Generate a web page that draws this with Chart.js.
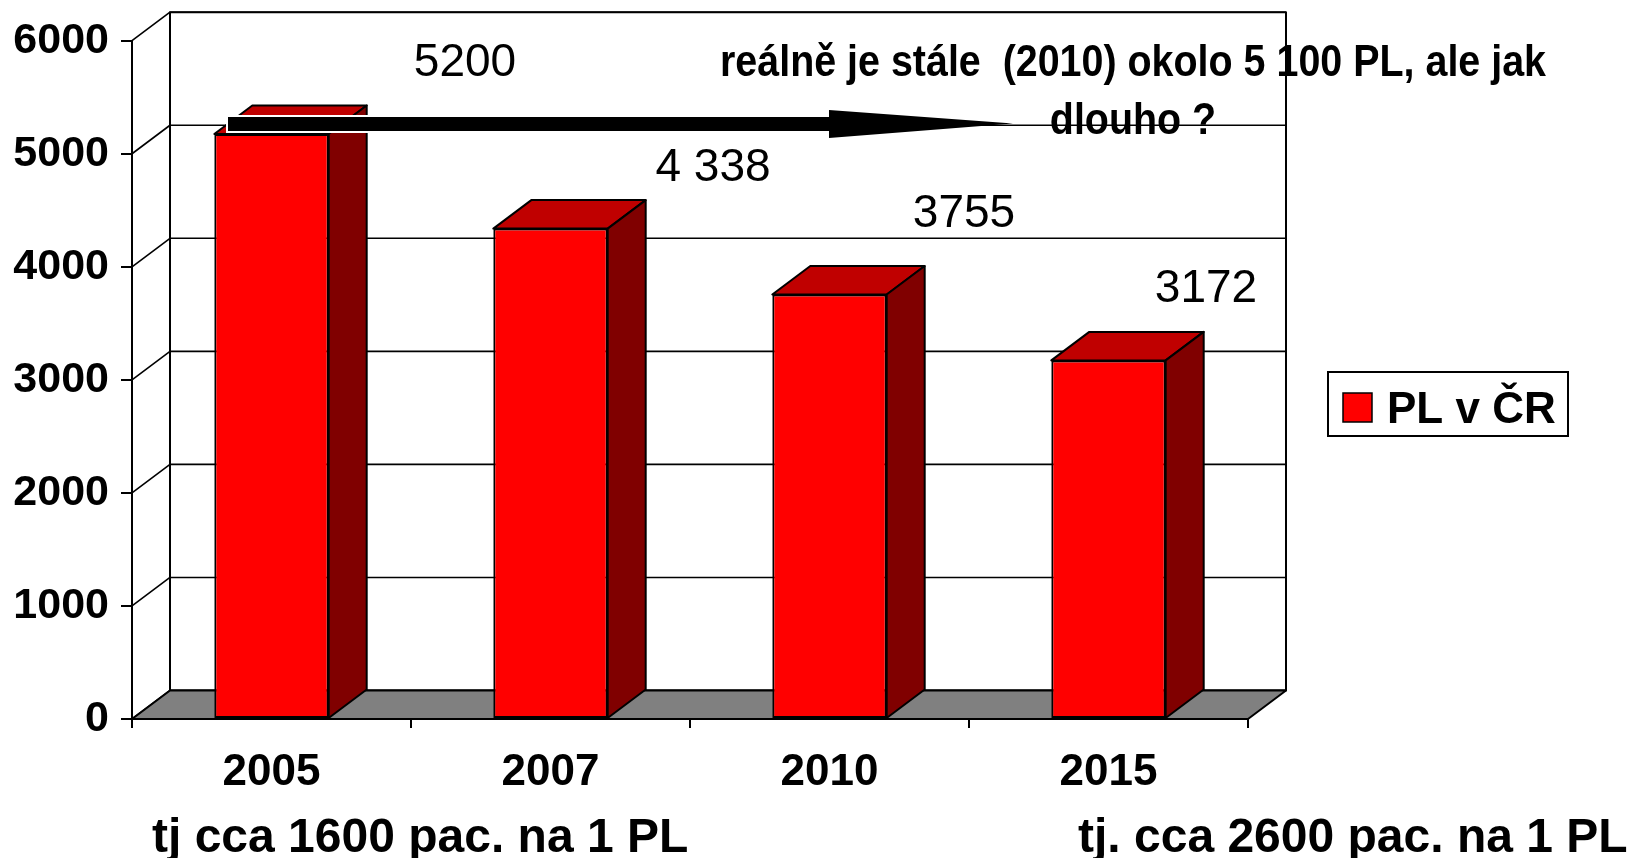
<!DOCTYPE html>
<html>
<head>
<meta charset="utf-8">
<title>PL v ČR</title>
<script src="https://cdn.jsdelivr.net/npm/chart.js@4.4.0/dist/chart.umd.min.js"></script>
<style>
  html, body { margin: 0; padding: 0; background: #fff; }
  #wrap { width: 1631px; height: 858px; }
</style>
</head>
<body>
<div id="wrap"><canvas id="myChart" width="1631" height="858"></canvas></div>
<script>
const years = ['2005', '2007', '2010', '2015']
const doctors = [5175, 4338, 3755, 3172]
const valueLabels = ['5200', '4 338', '3755', '3172']
const yTicks = [0, 1000, 2000, 3000, 4000, 5000, 6000]
const seriesName = 'PL v ČR'
const noteLines = ['reálně je stále  (2010) okolo 5 100 PL, ale jak', 'dlouho ?']
const footLeft = 'tj cca 1600 pac. na 1 PL'
const footRight = 'tj. cca 2600 pac. na 1 PL'

const FONT = "'Liberation Sans', Arial, sans-serif"
const DX = 38, DY = -28.5   // depth of the fake 3d box

function poly(ctx, pts, fill) {
    ctx.beginPath()
    ctx.moveTo(pts[0][0], pts[0][1])
    for (let i = 1; i < pts.length; i++) ctx.lineTo(pts[i][0], pts[i][1])
    ctx.closePath()
    if (fill) { ctx.fillStyle = fill; ctx.fill() }
    ctx.stroke()
}

const threeD = {
    id: 'threeD',
    beforeDraw: (chart) => {
        const { ctx, chartArea: a, scales: { y } } = chart
        ctx.save()
        ctx.fillStyle = '#fff'
        ctx.fillRect(0, 0, chart.width, chart.height)
        ctx.strokeStyle = '#000'
        ctx.lineWidth = 2
        ctx.lineJoin = 'round'
        // back wall
        ctx.strokeRect(a.left + DX, a.top + DY, a.right - a.left, a.bottom - a.top)
        // grid on side wall + back wall
        ctx.lineWidth = 1.6
        y.ticks.forEach(t => {
            const py = y.getPixelForValue(t.value)
            ctx.beginPath()
            ctx.moveTo(a.left, py)
            ctx.lineTo(a.left + DX, py + DY)
            ctx.lineTo(a.right + DX, py + DY)
            ctx.stroke()
        })
        // floor
        ctx.lineWidth = 2
        poly(ctx, [[a.left, a.bottom], [a.right, a.bottom], [a.right + DX, a.bottom + DY], [a.left + DX, a.bottom + DY]], '#808080')
        ctx.restore()
    },
    afterDatasetsDraw: (chart) => {
        const { ctx } = chart
        ctx.save()
        ctx.strokeStyle = '#000'
        ctx.lineWidth = 2
        ctx.lineJoin = 'round'
        chart.getDatasetMeta(0).data.forEach(bar => {
            const { x, y, base, width } = bar.getProps(['x', 'y', 'base', 'width'], true)
            const l = x - width / 2, r = x + width / 2
            poly(ctx, [[l, y], [r, y], [r + DX, y + DY], [l + DX, y + DY]], '#C00000')
            poly(ctx, [[r, y], [r + DX, y + DY], [r + DX, base + DY], [r, base]], '#800000')
        })
        ctx.restore()
    },
    afterDraw: (chart) => {
        const { ctx } = chart
        ctx.save()
        // arrow
        ctx.lineWidth = 4
        ctx.strokeStyle = '#fff'
        ctx.strokeRect(228, 117, 601, 14)
        ctx.fillStyle = '#000'
        ctx.fillRect(228, 117, 602, 14)
        ctx.beginPath()
        ctx.moveTo(829, 110)
        ctx.lineTo(1013, 123.5)
        ctx.lineTo(829, 138)
        ctx.closePath()
        ctx.fill()

        // value text boxes
        const boxes = [[465, 76], [713, 181], [964, 227], [1206, 302]]
        ctx.fillStyle = '#000'
        ctx.textAlign = 'center'
        ctx.textBaseline = 'alphabetic'
        ctx.font = '46px ' + FONT
        valueLabels.forEach((t, i) => ctx.fillText(t, boxes[i][0], boxes[i][1]))

        // note, narrow bold
        ctx.font = 'bold 44px ' + FONT
        const sx = 826 / ctx.measureText(noteLines[0]).width
        ctx.save()
        ctx.translate(1133, 0)
        ctx.scale(sx, 1)
        ctx.fillText(noteLines[0], 0, 76)
        ctx.fillText(noteLines[1], 0, 134)
        ctx.restore()

        // footer lines
        ctx.textAlign = 'left'
        ctx.font = 'bold 48px ' + FONT
        ctx.fillText(footLeft, 152, 852)
        ctx.fillText(footRight, 1078, 852)

        // legend
        ctx.lineWidth = 2
        ctx.strokeStyle = '#000'
        ctx.strokeRect(1328, 372, 240, 64)
        ctx.lineWidth = 1.5
        ctx.fillStyle = chart.data.datasets[0].backgroundColor
        ctx.fillRect(1343, 393, 29, 29)
        ctx.strokeRect(1343, 393, 29, 29)
        ctx.fillStyle = '#000'
        ctx.font = 'bold 44px ' + FONT
        ctx.fillText(chart.data.datasets[0].label, 1387, 423)
        ctx.restore()
    }
}

const ctx1 = document.getElementById('myChart')
let myChart = new Chart(ctx1, {
    type: 'bar',
    data: {
        labels: years,
        datasets: [{
            label: seriesName,
            data: doctors,
            backgroundColor: '#FF0000',
            borderColor: '#000',
            borderWidth: 2,
            borderSkipped: false,
            barPercentage: 0.41,
            categoryPercentage: 1
        }]
    },
    options: {
        responsive: false,
        animation: false,
        devicePixelRatio: 1,
        layout: { padding: { top: 40.7, right: 383, left: 0, bottom: 0 } },
        plugins: { legend: { display: false }, tooltip: { enabled: false } },
        scales: {
            x: {
                grid: { drawOnChartArea: false, color: '#000', lineWidth: 2, tickLength: 9 },
                border: { display: true, color: '#000', width: 2 },
                ticks: { color: '#000', padding: 18, font: { family: FONT, size: 44, weight: 'bold' } },
                afterFit: (s) => { s.height = 139 }
            },
            y: {
                min: 0,
                max: 6000,
                afterBuildTicks: (s) => { s.ticks = yTicks.map(v => ({ value: v })) },
                grid: { drawOnChartArea: false, color: '#000', lineWidth: 2, tickLength: 11 },
                border: { display: true, color: '#000', width: 2 },
                ticks: { color: '#000', padding: 12, font: { family: FONT, size: 43, weight: 'bold' }, callback: (v) => String(v) },
                afterFit: (s) => { s.width = 132 }
            }
        }
    },
    plugins: [threeD]
})
</script>
</body>
</html>
